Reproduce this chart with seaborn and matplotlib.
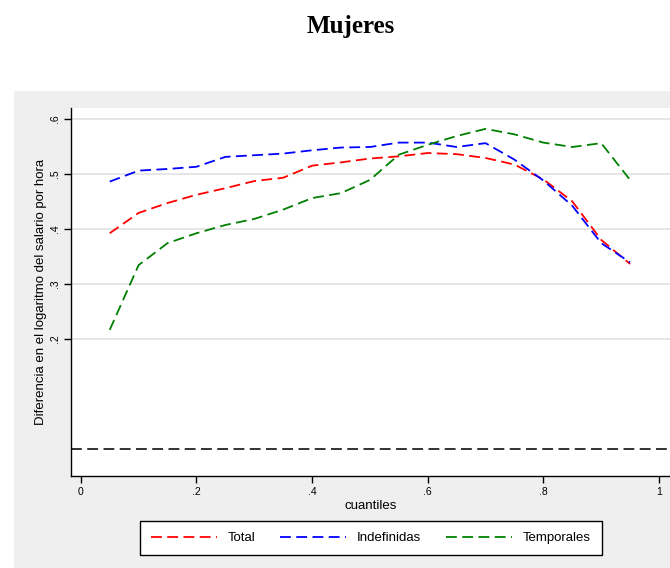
import matplotlib
matplotlib.use("Agg")
import matplotlib.pyplot as plt
import seaborn as sns
import pandas as pd
from matplotlib.patches import Rectangle

quantiles = [0.05, 0.10, 0.15, 0.20, 0.25, 0.30, 0.35, 0.40, 0.45, 0.50,
             0.55, 0.60, 0.65, 0.70, 0.75, 0.80, 0.85, 0.90, 0.95]
total = [0.392, 0.429, 0.447, 0.462, 0.474, 0.487, 0.493, 0.515, 0.521, 0.528,
         0.532, 0.538, 0.536, 0.529, 0.517, 0.490, 0.450, 0.380, 0.336]
indefinidas = [0.486, 0.506, 0.509, 0.513, 0.531, 0.534, 0.537, 0.543, 0.548, 0.549,
               0.557, 0.557, 0.549, 0.556, 0.526, 0.488, 0.442, 0.374, 0.339]
temporales = [0.216, 0.334, 0.374, 0.392, 0.407, 0.418, 0.435, 0.456, 0.465, 0.489,
              0.535, 0.553, 0.569, 0.582, 0.572, 0.557, 0.549, 0.556, 0.489]
series_names = ["Total", "Indefinidas", "Temporales"]
series_colors = ["#ff0000", "#0000ff", "#008000"]
y_ticks = [0.2, 0.3, 0.4, 0.5, 0.6]
y_ticklabels = [".2", ".3", ".4", ".5", ".6"]
x_ticks = [0, 0.2, 0.4, 0.6, 0.8, 1.0]
x_ticklabels = ["0", ".2", ".4", ".6", ".8", "1"]

sns.set_theme(style="white")
plt.rcParams["font.family"] = ["Liberation Sans", "DejaVu Sans"]
plt.rcParams["text.color"] = "black"
plt.rcParams["axes.labelcolor"] = "black"
plt.rcParams["xtick.color"] = "black"
plt.rcParams["ytick.color"] = "black"

W, H = 670, 568
fig = plt.figure(figsize=(W / 100, H / 100), dpi=100)
fig.patch.set_facecolor("white")
fig.patches.append(Rectangle((14 / W, 0), 1 - 14 / W, 1 - 91 / H,
                             transform=fig.transFigure, facecolor="#efefef",
                             edgecolor="none", zorder=-10))

ax = fig.add_axes([70.7 / W, 1 - 476 / H, 1 - 70.7 / W, (476 - 108) / H])
ax.set_facecolor("white")

data = {"Total": total, "Indefinidas": indefinidas, "Temporales": temporales}
for name, color in zip(series_names, series_colors):
    df = pd.DataFrame({"q": quantiles, "v": data[name]})
    sns.lineplot(data=df, x="q", y="v", ax=ax, color=color, label=name,
                 linewidth=1.3, linestyle=(0, (6, 3)))

ax.axhline(0, color="#222222", linewidth=1.3, linestyle=(0, (6, 3)), zorder=1)

ax.set_xlim(-0.0175, 1.019)
ax.set_ylim(-0.050, 0.620)
ax.set_yticks(y_ticks)
ax.set_yticklabels(y_ticklabels, rotation=90, va="center", fontsize=7.5)
ax.set_xticks(x_ticks)
ax.set_xticklabels(x_ticklabels, fontsize=7.5)
ax.tick_params(axis="both", direction="out", length=5, width=1, color="black",
               left=True, bottom=True, pad=3)
ax.grid(axis="y", color="#e6e6e6", linewidth=1.4)
ax.grid(axis="x", visible=False)
for s in ["top", "right"]:
    ax.spines[s].set_visible(False)
for s in ["left", "bottom"]:
    ax.spines[s].set_color("black")
    ax.spines[s].set_linewidth(1.0)

ax.set_xlabel("cuantiles", fontsize=9.5, labelpad=2)
ax.set_ylabel("Diferencia en el logaritmo del salario por hora", fontsize=9.5, labelpad=2)

handles, labels = ax.get_legend_handles_labels()
ax.get_legend().remove()
leg = fig.legend(handles, labels, loc="center", ncol=3,
                 bbox_to_anchor=(371 / W, 1 - 538 / H), fontsize=9.5,
                 frameon=True, fancybox=False, handlelength=5.0,
                 columnspacing=1.9, borderpad=0.85, handletextpad=0.8)
leg.get_frame().set_edgecolor("black")
leg.get_frame().set_linewidth(1.0)
leg.get_frame().set_facecolor("white")
leg.get_frame().set_alpha(1.0)

fig.text(351 / W, 1 - 26 / H, "Mujeres", ha="center", va="center",
         fontsize=18, fontweight="bold", family="Liberation Serif", color="black")

fig.savefig("out.png", dpi=100)
